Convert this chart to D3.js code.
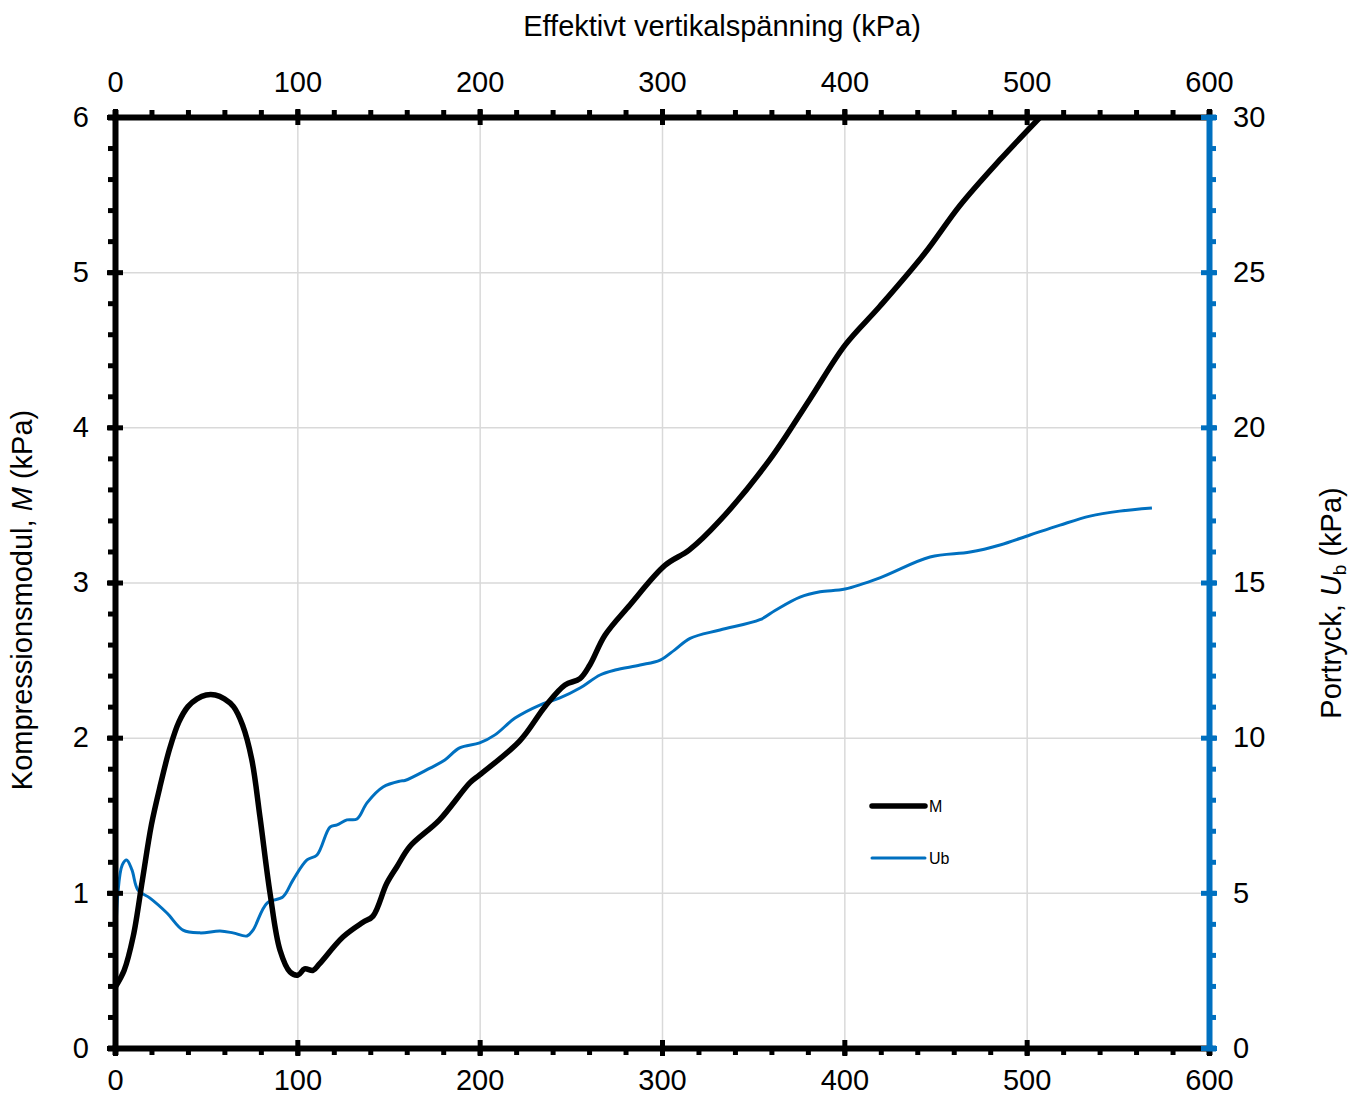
<!DOCTYPE html>
<meta charset="utf-8">
<style>
body { margin: 0; background: #fff; }
text { font-family: "Liberation Sans", Arial, sans-serif; fill: #000; }
.grid line { stroke: #d9d9d9; stroke-width: 1.5; }
.grid path { display: none; }
</style>
<body>
<script src="https://cdn.jsdelivr.net/npm/d3@7"></script>
<script>

// effective vertical stress (kPa) and compression modulus M
var mX = [0, 5, 10, 15, 20, 25, 30, 35, 40, 45, 50, 55, 60, 65, 70, 75, 79.5, 85, 90.5, 96, 100.4, 104, 108.6, 112,
          125, 136, 141.5, 149, 154.7, 161.8, 178, 194.7, 200, 222, 235.8, 246.8, 255, 260.5, 268.7, 282.4,
          301.6, 315, 331.8, 359, 381, 400.4, 419.5, 444, 463.4, 485, 507.5];
var mY = [0.39, 0.5, 0.72, 1.08, 1.44, 1.7, 1.93, 2.1, 2.2, 2.25, 2.275, 2.275, 2.25, 2.2, 2.08, 1.86, 1.49, 1.0, 0.63, 0.49, 0.47, 0.51, 0.5, 0.54,
          0.715, 0.81, 0.85, 1.06, 1.17, 1.30, 1.47, 1.71, 1.76, 1.98, 2.2, 2.34, 2.38, 2.47, 2.66, 2.855,
          3.11, 3.21, 3.40, 3.79, 4.18, 4.53, 4.78, 5.12, 5.43, 5.72, 6.0];

// pore pressure Ub (kPa)
var uX = [0, 1.6, 4, 6.4, 9.3, 12.6, 19.2, 28.5, 37.3, 46.6, 57.6, 64.7, 72.4, 75.7, 83.4, 92.1, 97.6, 105.3, 110.8,
          117.9, 121.8, 127.2, 132.7, 138.2, 147, 156.3, 159, 172.8, 180.9, 189, 200, 208.4, 219.4, 233, 244, 255,
          266, 274.3, 288, 299, 307, 315.4, 331.8, 353.7, 362, 375.7, 386.7, 400.4, 419.5, 447, 469, 485.4,
          501.8, 518.3, 534.7, 551, 568.7];
var uY = [2.1, 5.0, 5.9, 6.06, 5.74, 5.09, 4.83, 4.35, 3.80, 3.71, 3.77, 3.71, 3.61, 3.80, 4.67, 4.87, 5.41, 6.06, 6.22,
          7.12, 7.19, 7.35, 7.38, 7.9, 8.41, 8.6, 8.62, 9.02, 9.28, 9.67, 9.83, 10.09, 10.63, 11.05, 11.28, 11.60,
          12.02, 12.18, 12.34, 12.5, 12.83, 13.2, 13.47, 13.8, 14.1, 14.53, 14.70, 14.79, 15.15, 15.82, 15.98, 16.21,
          16.53, 16.85, 17.14, 17.3, 17.4];

var xTicks = [0, 100, 200, 300, 400, 500, 600];
var leftTicks = [0, 1, 2, 3, 4, 5, 6];
var rightTicks = [0, 5, 10, 15, 20, 25, 30];

var blue = "#0070c0";
var width = 1364, height = 1096;
var x = d3.scaleLinear().domain([0, 600]).range([115, 1209]);
var yL = d3.scaleLinear().domain([0, 6]).range([1048, 117]);
var yR = d3.scaleLinear().domain([0, 30]).range([1048, 117]);

var svg = d3.select("body").append("svg")
    .attr("width", width)
    .attr("height", height);

// gridlines
svg.append("g").attr("class", "grid")
    .attr("transform", "translate(0,1048)")
    .call(d3.axisBottom(x).tickValues(xTicks).tickSize(-(1048 - 117)).tickFormat(""));
svg.append("g").attr("class", "grid")
    .attr("transform", "translate(115,0)")
    .call(d3.axisLeft(yL).tickValues(leftTicks).tickSize(-(1209 - 115)).tickFormat(""));

svg.append("defs").append("clipPath").attr("id", "plot")
  .append("rect").attr("x", 115).attr("y", 117).attr("width", 1094).attr("height", 931);

// series
var lineM = d3.line()
    .x(function(d) { return x(d[0]); })
    .y(function(d) { return yL(d[1]); })
    .curve(d3.curveCatmullRom);
var lineU = d3.line()
    .x(function(d) { return x(d[0]); })
    .y(function(d) { return yR(d[1]); })
    .curve(d3.curveCatmullRom);

svg.append("path")
    .datum(d3.zip(uX, uY))
    .attr("clip-path", "url(#plot)")
    .attr("fill", "none")
    .attr("stroke", blue)
    .attr("stroke-width", 3)
    .attr("d", lineU);

svg.append("path")
    .datum(d3.zip(mX, mY))
    .attr("clip-path", "url(#plot)")
    .attr("fill", "none")
    .attr("stroke", "#000")
    .attr("stroke-width", 5.5)
    .attr("d", lineM);

// axes: minor ticks drawn by axis with no labels, majors crossing
function styleAxis(g, color) {
  g.select(".domain").attr("stroke", color).attr("stroke-width", 6);
  g.selectAll(".tick line").attr("stroke", color).attr("stroke-width", 5);
  g.selectAll(".tick text").attr("font-size", 29).attr("fill", "#000")
    .style("font-family", "Liberation Sans, Arial, sans-serif");
}

// bottom
svg.append("g").attr("transform", "translate(0,1048)")
    .call(d3.axisBottom(x).ticks(24).tickSizeOuter(0).tickSize(7).tickFormat(""))
    .call(styleAxis, "#000");
svg.append("g").attr("transform", "translate(0,1048)")
    .call(d3.axisBottom(x).tickValues(xTicks).tickSizeOuter(0).tickSize(8).tickPadding(13))
    .call(styleAxis, "#000")
    .call(function(g) { g.select(".domain").remove(); g.selectAll(".tick line").attr("y1", -8); });

// top
svg.append("g").attr("transform", "translate(0,117)")
    .call(d3.axisTop(x).ticks(24).tickSizeOuter(0).tickSize(7).tickFormat(""))
    .call(styleAxis, "#000");
svg.append("g").attr("transform", "translate(0,117)")
    .call(d3.axisTop(x).tickValues(xTicks).tickSizeOuter(0).tickSize(8).tickPadding(17))
    .call(styleAxis, "#000")
    .call(function(g) { g.select(".domain").remove(); g.selectAll(".tick line").attr("y1", 8); });

// left
svg.append("g").attr("transform", "translate(115,0)")
    .call(d3.axisLeft(yL).ticks(30).tickSizeOuter(0).tickSize(7).tickFormat(""))
    .call(styleAxis, "#000");
svg.append("g").attr("transform", "translate(115,0)")
    .call(d3.axisLeft(yL).tickValues(leftTicks).tickSizeOuter(0).tickSize(8).tickPadding(18).tickFormat(d3.format("d")))
    .call(styleAxis, "#000")
    .call(function(g) { g.select(".domain").remove(); g.selectAll(".tick line").attr("x1", 8); });

// right (blue)
svg.append("g").attr("transform", "translate(1209,0)")
    .call(d3.axisRight(yR).ticks(30).tickSizeOuter(0).tickSize(7).tickFormat(""))
    .call(styleAxis, blue);
svg.append("g").attr("transform", "translate(1209,0)")
    .call(d3.axisRight(yR).tickValues(rightTicks).tickSizeOuter(0).tickSize(8).tickPadding(16))
    .call(styleAxis, blue)
    .call(function(g) { g.select(".domain").remove(); g.selectAll(".tick line").attr("x1", -8); });

// axis titles
svg.append("text")
    .attr("x", 722).attr("y", 36)
    .attr("text-anchor", "middle")
    .attr("font-size", 29)
    .text("Effektivt vertikalspänning (kPa)");

var tl = svg.append("text")
    .attr("transform", "translate(32,600) rotate(-90)")
    .attr("text-anchor", "middle")
    .attr("font-size", 29);
tl.append("tspan").text("Kompressionsmodul, ");
tl.append("tspan").attr("font-style", "italic").text("M");
tl.append("tspan").text(" (kPa)");

var tr = svg.append("text")
    .attr("transform", "translate(1341,603) rotate(-90)")
    .attr("text-anchor", "middle")
    .attr("font-size", 29);
tr.append("tspan").text("Portryck, ");
tr.append("tspan").attr("font-style", "italic").text("U");
tr.append("tspan").attr("font-size", 19).attr("dy", 5).text("b");
tr.append("tspan").attr("dy", -5).text(" (kPa)");

// legend
var legend = [{name: "M", color: "#000", w: 5.5, y: 806}, {name: "Ub", color: blue, w: 3, y: 858}];
var lg = svg.append("g").selectAll("g").data(legend).enter().append("g");
lg.append("line")
    .attr("x1", 872).attr("x2", 925)
    .attr("y1", function(d) { return d.y; }).attr("y2", function(d) { return d.y; })
    .attr("stroke", function(d) { return d.color; })
    .attr("stroke-width", function(d) { return d.w; })
    .attr("stroke-linecap", "round");
lg.append("text")
    .attr("x", 929).attr("y", function(d) { return d.y + 6; })
    .attr("font-size", 16)
    .text(function(d) { return d.name; });

</script>
</body>
